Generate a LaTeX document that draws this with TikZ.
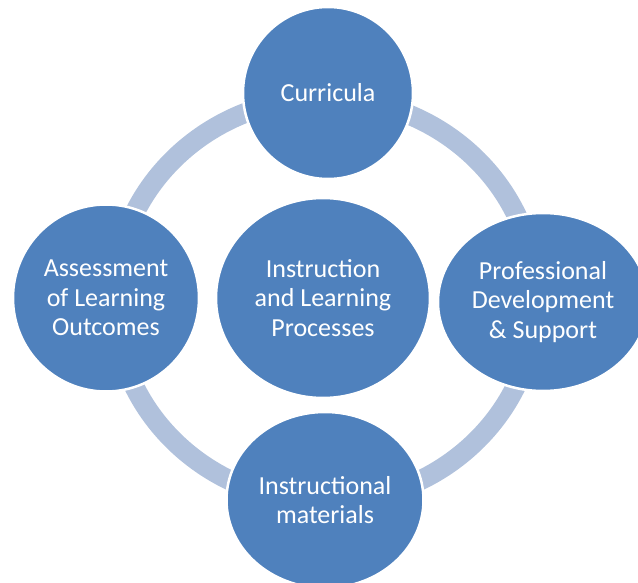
\documentclass[tikz,border=0pt]{standalone}
\usepackage{fontspec}
\setmainfont{Carlito}
\usetikzlibrary{shapes.geometric}
\definecolor{nodeblue}{RGB}{79,129,189}
\definecolor{ringblue}{RGB}{176,193,220}
\tikzset{
	bubble/.style={ellipse, fill=nodeblue, draw=white, line width=2.5pt, inner sep=0pt,
		text=white, align=center, font=\fontsize{26}{29.5}\selectfont},
	ring/.style={draw=ringblue, line width=20pt}
}
\begin{document}
\begin{tikzpicture}[x=1pt, y=-1pt]
	\useasboundingbox (0,0) rectangle (638,583);
	\draw[ring] (325,300) ellipse [x radius=211pt, y radius=202pt];
	\node[bubble, minimum width=170pt, minimum height=172pt] (cur) at (328,93) {Curricula};
	\node[bubble, minimum width=186pt, minimum height=187pt] (assess) at (106,298) {Assessment\\of Learning\\Outcomes};
	\node[bubble, minimum width=214pt, minimum height=200pt] (instr) at (323,298) {Instruction\\and Learning\\Processes};
	\node[bubble, minimum width=210pt, minimum height=178pt] (prof) at (543,302) {Professional\\Development\\\& Support};
	\node[bubble, minimum width=197pt, minimum height=176pt] (mater) at (325,500) {Instructional\\materials};
\end{tikzpicture}
\end{document}
